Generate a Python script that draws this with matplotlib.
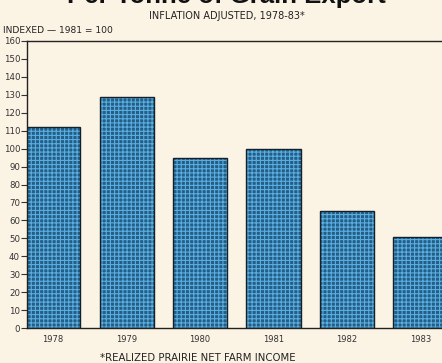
import matplotlib
matplotlib.use("Agg")
import matplotlib.pyplot as plt
import numpy as np

years = ["1978", "1979", "1980", "1981", "1982", "1983"]
values = [112, 129, 95, 100, 65, 51]
yticks = list(range(0, 161, 10))

BG = "#fbf3e4"
W, H = 442, 363
plt.rcParams['font.family'] = ['DejaVu Sans']
plt.rcParams['hatch.linewidth'] = 0.8
fig = plt.figure(figsize=(W / 100, H / 100), dpi=100, facecolor=BG)

left_px, right_px, top_px, bot_px = 27, 470, 41, 328
ax = fig.add_axes([left_px / W, (H - bot_px) / H, (right_px - left_px) / W, (bot_px - top_px) / H])
ax.set_facecolor(BG)

x = np.arange(len(years))
ax.bar(x, values, width=0.735, color="#245d86", edgecolor="#5aaee0", linewidth=0, hatch="++++")
ax.bar(x, values, width=0.735, fill=False, edgecolor="#14202a", linewidth=1.0)

ax.set_xlim(-0.354, (right_px - 53) / 73.5)
ax.set_ylim(0, 160)
ax.set_yticks(yticks)
ax.set_yticklabels([str(t) for t in yticks], fontsize=6.2, color="#333333")
ax.set_xticks(x)
ax.set_xticklabels(years, fontsize=6.0, color="#333333")
ax.tick_params(axis='x', length=0, pad=5)
ax.tick_params(axis='y', length=4, width=0.8, pad=1, color="#333333")
ax.spines["right"].set_visible(False)
for s in ["left", "top", "bottom"]:
    ax.spines[s].set_linewidth(1.0)
    ax.spines[s].set_color("#222222")

fig.text(226 / W, 1 - 3 / H, "Per Tonne of Grain Export", ha="center", va="baseline",
         fontsize=18.5, fontweight="bold", color="#111111",
         family=['Liberation Sans', 'DejaVu Sans'])
fig.text(227 / W, 1 - 19 / H, "INFLATION ADJUSTED, 1978-83*", ha="center", va="baseline",
         fontsize=7.0, color="#222222")
fig.text(3 / W, 1 - 33 / H, "INDEXED \u2014 1981 = 100", ha="left", va="baseline",
         fontsize=6.6, color="#222222")
fig.text(198 / W, 1 - 361 / H, "*REALIZED PRAIRIE NET FARM INCOME", ha="center", va="baseline",
         fontsize=7.3, color="#222222")

fig.savefig("out.png", dpi=100, facecolor=BG)
